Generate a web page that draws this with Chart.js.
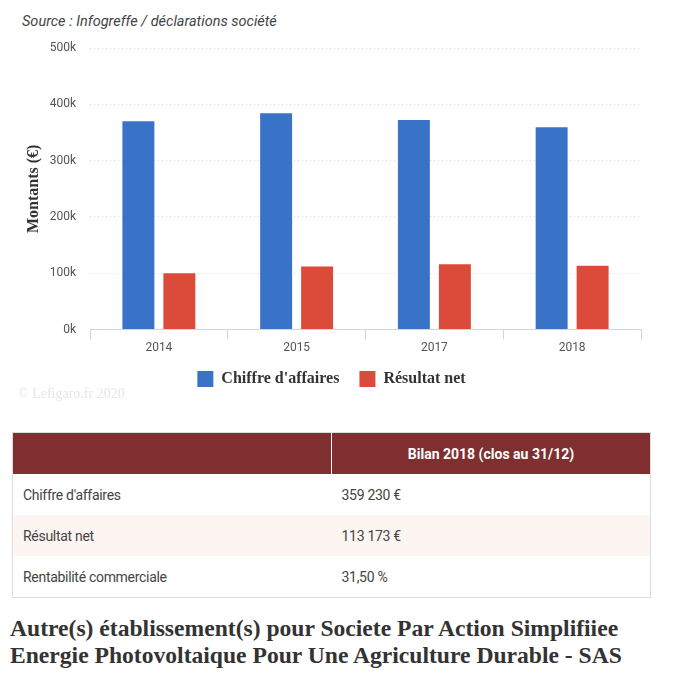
<!DOCTYPE html>
<html><head><meta charset="utf-8">
<script src="https://cdn.jsdelivr.net/npm/chart.js@4/dist/chart.umd.min.js"></script>
<style>
html,body{margin:0;padding:0;background:#fff;width:681px;height:680px;overflow:hidden;}
#wrap{position:absolute;left:0;top:0;width:681px;height:397px;}
#src{position:absolute;left:22px;top:13px;font:italic 14.5px Roboto,sans-serif;color:#444;}
#copy{position:absolute;left:18px;top:386px;font:14px "Liberation Serif",serif;color:#e6e6e6;}
table{position:absolute;left:12px;top:432px;width:639px;border-collapse:collapse;font:14px Roboto,sans-serif;color:#444;border:1px solid #ddd;}
th{background:#7f2f2f;color:#fff;height:41px;font-weight:bold;font-size:14px;text-align:center;padding:0;}
th:first-child{border-right:1px solid #fff;}
td{height:41px;padding:0 0 0 10px;letter-spacing:-0.3px;}
tr.alt td{background:#fdf5f1;}
h2{position:absolute;left:10px;top:615px;margin:0;font:bold 23.6px "Liberation Serif",serif;color:#333;line-height:27px;}
</style></head><body>
<div id="src">Source : Infogreffe / déclarations société</div>
<div id="wrap"><canvas id="c"></canvas></div>
<div id="copy">© Lefigaro.fr 2020</div>
<table>
<tr><th style="width:318px"></th><th>Bilan 2018 (clos au 31/12)</th></tr>
<tr><td>Chiffre d'affaires</td><td>359 230 €</td></tr>
<tr class="alt"><td>Résultat net</td><td>113 173 €</td></tr>
<tr><td>Rentabilité commerciale</td><td>31,50 %</td></tr>
</table>
<h2>Autre(s) établissement(s) pour Societe Par Action Simplifiiee<br>Energie Photovoltaique Pour Une Agriculture Durable - SAS</h2>
<script>
const categories = ['2014', '2015', '2017', '2018'];
const chiffreAffaires = [370000, 384000, 372000, 359230];
const resultatNet = [100000, 112000, 116000, 113173];
const seriesNames = ["Chiffre d'affaires", 'Résultat net'];
const yMax = 500000;
const yStep = 100000;

new Chart(document.getElementById('c'), {
  type: 'bar',
  data: {
    labels: categories,
    datasets: [
      {label: seriesNames[0], data: chiffreAffaires, backgroundColor: '#3873c8'},
      {label: seriesNames[1], data: resultatNet, backgroundColor: '#dc4b3a'}
    ]
  },
  options: {
    responsive: true, maintainAspectRatio: false, animation: false,
    layout: {padding: {left: 22, right: 40, top: 48, bottom: 0}},
    datasets: {bar: {categoryPercentage: 0.595, barPercentage: 0.78}},
    plugins: {
      tooltip: {enabled: false},
      legend: {
        position: 'bottom',
        labels: {boxWidth: 16, boxHeight: 16, padding: 20, color: '#333',
          font: {family: '"Liberation Serif", serif', size: 16, weight: 'bold'}}
      }
    },
    scales: {
      x: {
        offset: true,
        afterFit: s => { s.height -= 5; },
        grid: {display: true, drawOnChartArea: false, drawTicks: true, tickLength: 10, color: '#ccd6eb', offset: true},
        border: {display: true, color: '#ccd6eb'},
        ticks: {color: '#555', font: {family: 'Roboto', size: 12}, padding: 1}
      },
      y: {
        min: 0, max: yMax,
        afterFit: s => { s.width = 68; },
        ticks: {stepSize: yStep, color: '#555', font: {family: 'Roboto', size: 12}, padding: 14,
          callback: v => (v / 1000) + 'k'},
        grid: {color: '#d8d8d8', drawTicks: false},
        border: {display: false, dash: [1, 3]},
        title: {display: true, text: 'Montants (€)', color: '#333', padding: {top: 2, bottom: 0},
          font: {family: '"Liberation Serif", serif', size: 16, weight: 'bold'}}
      }
    }
  }
});
</script>
</body></html>
